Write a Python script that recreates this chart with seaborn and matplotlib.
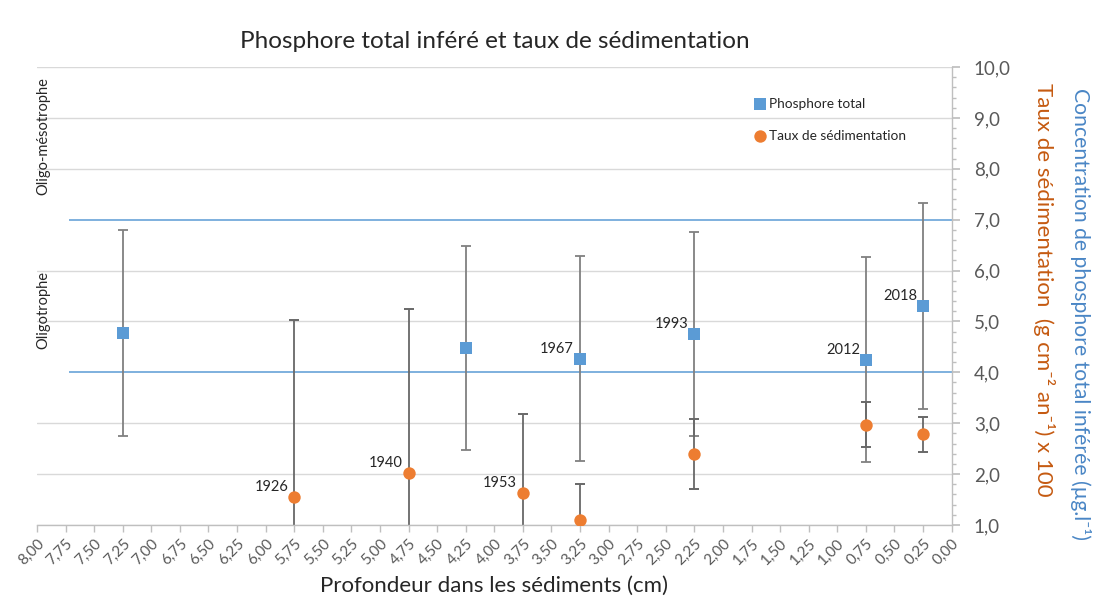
import numpy as np
import pandas as pd
import matplotlib
matplotlib.use("Agg")
import matplotlib.pyplot as plt
import seaborn as sns
from matplotlib.ticker import MultipleLocator, FuncFormatter

# Données
prof_phos = [7.25, 4.25, 3.25, 2.25, 0.75, 0.25]
phosphore = [4.77, 4.48, 4.27, 4.75, 4.25, 5.30]
phosphore_err = [2.02, 2.01, 2.01, 2.01, 2.01, 2.02]
annees_phos = ["", "", "1967", "1993", "2012", "2018"]

prof_sed = [5.75, 4.75, 3.75, 3.25, 2.25, 0.75, 0.25]
sedimentation = [1.54, 2.02, 1.62, 1.09, 2.40, 2.97, 2.78]
sedimentation_err = [3.49, 3.22, 1.56, 0.72, 0.69, 0.44, 0.34]
annees_sed = ["1926", "1940", "1953", "", "", "", ""]

seuils = [4.0, 7.0]
x_ticks = np.arange(0, 8.01, 0.25)

df_p = pd.DataFrame({"prof": prof_phos, "val": phosphore, "err": phosphore_err, "annee": annees_phos})
df_s = pd.DataFrame({"prof": prof_sed, "val": sedimentation, "err": sedimentation_err, "annee": annees_sed})

sns.set_theme(style="white")
plt.rcParams["font.family"] = ["Lato", "DejaVu Sans"]

BLEU = "#5b9bd5"
ORANGE = "#ed7d31"
GRIS = "#595959"

fig = plt.figure(figsize=(10.98, 6.09), dpi=100)
ax = fig.add_axes([0.0337, 0.138, 0.833, 0.752])

# grille horizontale
for v in range(1, 11):
    if v in (4, 7):
        continue
    ax.axhline(v, color="#d9d9d9", lw=1.0, zorder=0)
for s in seuils:
    ax.hlines(s, 7.72, 0, color=BLEU, lw=1.1, zorder=1)

# barres d'erreur
ax.errorbar(df_p["prof"], df_p["val"], yerr=df_p["err"], fmt="none",
            ecolor="#808080", elinewidth=1.3, capsize=3.5, capthick=1.3, zorder=2)
ax.errorbar(df_s["prof"], df_s["val"], yerr=df_s["err"], fmt="none",
            ecolor="#686868", elinewidth=1.3, capsize=3.5, capthick=1.4, zorder=2)

sns.scatterplot(data=df_p, x="prof", y="val", marker="s", s=70, color=BLEU,
                edgecolor=BLEU, linewidth=0, ax=ax, zorder=3, label="Phosphore total")
sns.scatterplot(data=df_s, x="prof", y="val", marker="o", s=80, color=ORANGE,
                edgecolor=ORANGE, linewidth=0, ax=ax, zorder=3, label="Taux de sédimentation")

for d in (df_p, df_s):
    for _, r in d.iterrows():
        if r["annee"]:
            ax.annotate(r["annee"], (r["prof"], r["val"]), xytext=(-6, 10),
                        textcoords="offset pixels", ha="right", va="center",
                        fontsize=10.5, color="#262626", zorder=4)

ax.set_xlim(8, 0)
ax.set_ylim(1, 10)
ax.set_xticks(x_ticks)
ax.xaxis.set_major_formatter(FuncFormatter(lambda v, p: f"{v:.2f}".replace(".", ",")))
plt.setp(ax.get_xticklabels(), rotation=45, ha="right", rotation_mode="anchor")
ax.tick_params(axis="x", direction="out", length=5, width=1, color="#bfbfbf",
               labelsize=11, labelcolor=GRIS, bottom=True, pad=3)

ax.yaxis.tick_right()
ax.yaxis.set_major_locator(MultipleLocator(1))
ax.yaxis.set_minor_locator(MultipleLocator(0.2))
ax.yaxis.set_major_formatter(FuncFormatter(lambda v, p: f"{v:.1f}".replace(".", ",")))
ax.tick_params(axis="y", which="major", direction="out", length=6, color="#bfbfbf",
               labelsize=13.5, labelcolor=GRIS, right=True, left=False, pad=10)
ax.tick_params(axis="y", which="minor", direction="out", length=3, color="#bfbfbf",
               right=True, left=False)

for side in ("top", "left"):
    ax.spines[side].set_visible(False)
for side in ("bottom", "right"):
    ax.spines[side].set_color("#bfbfbf")
    ax.spines[side].set_linewidth(1)

ax.set_xlabel("Profondeur dans les sédiments (cm)", fontsize=16, color="#262626", labelpad=6)
ax.set_ylabel("")
ax.set_title("Phosphore total inféré et taux de sédimentation", fontsize=17.5,
             color="#262626", pad=14)

fig.text(0.951, 0.524, "Taux de sédimentation  (g cm⁻² an⁻¹) x 100",
         rotation=-90, ha="center", va="center", fontsize=16, color="#c55a11")
fig.text(0.984, 0.485, "Concentration de phosphore total inférée (µg.l⁻¹)",
         rotation=-90, ha="center", va="center", fontsize=15.2, color="#4a86c5")

ax.text(7.94, 8.64, "Oligo-mésotrophe", rotation=90, ha="center", va="center",
        fontsize=10.5, color="#262626")
ax.text(7.94, 5.22, "Oligotrophe", rotation=90, ha="center", va="center",
        fontsize=10.5, color="#262626")

leg = ax.legend(loc="upper left", bbox_to_anchor=(0.683, 0.848), bbox_transform=fig.transFigure,
                frameon=False, fontsize=9.8, labelspacing=1.45, handlelength=0.7,
                handletextpad=0.3, borderaxespad=0)
for t in leg.get_texts():
    t.set_color("#262626")

plt.savefig("out.png", dpi=100)
